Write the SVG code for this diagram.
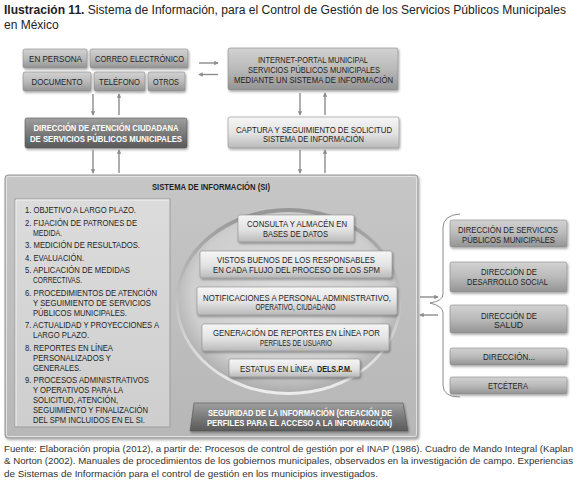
<svg xmlns="http://www.w3.org/2000/svg" width="579" height="490" viewBox="0 0 579 490">
<style>
text{font-family:"Liberation Sans",Arial,sans-serif}
.title{font-size:12px;fill:#222}
.t{font-size:9.5px;fill:#1e1e1e;text-anchor:middle}
.tl{font-size:9.5px;fill:#1e1e1e}
.ts{font-size:9.5px;fill:#1e1e1e}
.tw{font-size:9.5px;fill:#fff;font-weight:bold;text-anchor:middle}
.tb{font-size:9.5px;fill:#1e1e1e;font-weight:bold;text-anchor:middle}
.ft{font-size:9.8px;fill:#333}
.btn{fill:url(#gBtn);stroke:#8a8a8a;stroke-width:.6}
.lite{fill:url(#gLite);stroke:#8f8f8f;stroke-width:.6}
.dark{fill:url(#gDark);stroke:#555;stroke-width:.6}
.arr{stroke:#8c8c8c;stroke-width:1.4;fill:none;marker-end:url(#ah)}
</style>
<defs>
<linearGradient id="gBtn" x1="0" y1="0" x2="0" y2="1"><stop offset="0" stop-color="#d2d2d2"/><stop offset=".5" stop-color="#bababa"/><stop offset="1" stop-color="#939393"/></linearGradient>
<linearGradient id="gLite" x1="0" y1="0" x2="0" y2="1"><stop offset="0" stop-color="#f6f6f6"/><stop offset=".55" stop-color="#e2e2e2"/><stop offset="1" stop-color="#b9b9b9"/></linearGradient>
<linearGradient id="gDark" x1="0" y1="0" x2="0" y2="1"><stop offset="0" stop-color="#a0a0a0"/><stop offset=".5" stop-color="#7a7a7a"/><stop offset="1" stop-color="#5a5a5a"/></linearGradient>
<linearGradient id="gSI" x1="0" y1="0" x2="0" y2="1"><stop offset="0" stop-color="#c6c6c6"/><stop offset="1" stop-color="#b7b7b7"/></linearGradient>
<linearGradient id="gList" x1="0" y1="0" x2="0" y2="1"><stop offset="0" stop-color="#dcdcdc"/><stop offset="1" stop-color="#cecece"/></linearGradient>
<radialGradient id="gCirc" cx=".5" cy=".45" r=".55"><stop offset="0" stop-color="#dcdcdc"/><stop offset=".8" stop-color="#cecece"/><stop offset="1" stop-color="#adadad"/></radialGradient>
<linearGradient id="gRim" x1="0" y1="0" x2="0" y2="1"><stop offset="0" stop-color="#969696"/><stop offset="1" stop-color="#eeeeee"/></linearGradient>
<filter id="sh" x="-10%" y="-10%" width="120%" height="140%"><feDropShadow dx="1" dy="1.5" stdDeviation="1" flood-color="#000" flood-opacity=".35"/></filter>
<marker id="ah" viewBox="0 0 6 6" refX="5" refY="3" markerWidth="4.5" markerHeight="4.5" orient="auto" markerUnits="userSpaceOnUse"><path d="M0,0 L6,3 L0,6 z" fill="#8c8c8c"/></marker>
</defs>
<rect width="579" height="490" fill="#fff"/>

<text x="4" y="14" class="title" textLength="562" lengthAdjust="spacingAndGlyphs"><tspan font-weight="bold">Ilustración 11.</tspan> Sistema de Información, para el Control de Gestión de los Servicios Públicos Municipales</text>
<text x="4" y="29" class="title">en México</text>

<g id="en-persona"><rect x="23" y="49" width="64" height="19" rx="2" class="btn" filter="url(#sh)"/><text x="55.5" y="61.5" class="t" textLength="53" lengthAdjust="spacingAndGlyphs">EN PERSONA</text></g>
<g id="correo"><rect x="90" y="49" width="98" height="19" rx="2" class="btn" filter="url(#sh)"/><text x="139.5" y="61.5" class="t" textLength="89" lengthAdjust="spacingAndGlyphs">CORREO ELECTRÓNICO</text></g>
<g id="documento"><rect x="23" y="72" width="68" height="19" rx="2" class="btn" filter="url(#sh)"/><text x="57" y="84.5" class="t" textLength="51" lengthAdjust="spacingAndGlyphs">DOCUMENTO</text></g>
<g id="telefono"><rect x="94" y="72" width="51" height="19" rx="2" class="btn" filter="url(#sh)"/><text x="119.5" y="84.5" class="t" textLength="41" lengthAdjust="spacingAndGlyphs">TELÉFONO</text></g>
<g id="otros"><rect x="148" y="72" width="37" height="19" rx="2" class="btn" filter="url(#sh)"/><text x="166" y="84.5" class="t" textLength="26" lengthAdjust="spacingAndGlyphs">OTROS</text></g>

<g id="direccion-atencion"><rect x="25" y="118" width="162" height="30" rx="2" class="dark" filter="url(#sh)"/>
<text x="106" y="131" class="tw" textLength="145" lengthAdjust="spacingAndGlyphs">DIRECCIÓN DE ATENCIÓN CIUDADANA</text>
<text x="106" y="142" class="tw" textLength="152" lengthAdjust="spacingAndGlyphs">DE SERVICIOS PÚBLICOS MUNICIPALES</text></g>

<g id="internet"><rect x="228" y="48" width="170" height="42" rx="2" class="btn" filter="url(#sh)"/>
<text x="313" y="63" class="t" textLength="110" lengthAdjust="spacingAndGlyphs">INTERNET-PORTAL MUNICIPAL</text>
<text x="314" y="73" class="t" textLength="132" lengthAdjust="spacingAndGlyphs">SERVICIOS PÚBLICOS MUNICIPALES</text>
<text x="313.5" y="83" class="t" textLength="159" lengthAdjust="spacingAndGlyphs">MEDIANTE UN SISTEMA DE INFORMACIÓN</text></g>

<g id="captura"><rect x="228" y="117" width="171" height="31" rx="2" class="lite" filter="url(#sh)"/>
<text x="314" y="132.5" class="t" textLength="156" lengthAdjust="spacingAndGlyphs">CAPTURA Y SEGUIMIENTO DE SOLICITUD</text>
<text x="313.5" y="142" class="t" textLength="101" lengthAdjust="spacingAndGlyphs">SISTEMA DE INFORMACIÓN</text></g>

<g id="sistema-informacion">
<rect x="5" y="175" width="413" height="263" rx="3" fill="url(#gSI)" stroke="#9a9a9a" stroke-width="1" filter="url(#sh)"/>
<rect x="6.5" y="176.5" width="410" height="260" rx="2" fill="none" stroke="#e2e2e2" stroke-width="1"/>
<text x="211" y="190" class="tb" textLength="118" lengthAdjust="spacingAndGlyphs">SISTEMA DE INFORMACIÓN (SI)</text>
</g>

<g id="lista">
<rect x="15" y="199" width="155" height="228" fill="url(#gList)" stroke="#9c9c9c" stroke-width="1"/>
<path d="M16,426 L16,200 L169,200" fill="none" stroke="#f2f2f2" stroke-width="1"/>
<text class="tl" x="25" y="213" textLength="111" lengthAdjust="spacingAndGlyphs">1. OBJETIVO A LARGO PLAZO.</text>
<text class="tl" x="25" y="225.5" textLength="112" lengthAdjust="spacingAndGlyphs">2. FIJACIÓN DE PATRONES DE</text>
<text class="tl" x="33" y="235.5" textLength="29" lengthAdjust="spacingAndGlyphs">MEDIDA.</text>
<text class="tl" x="25" y="248" textLength="115" lengthAdjust="spacingAndGlyphs">3. MEDICIÓN DE RESULTADOS.</text>
<text class="tl" x="25" y="260.5" textLength="59" lengthAdjust="spacingAndGlyphs">4. EVALUACIÓN.</text>
<text class="tl" x="25" y="273" textLength="105" lengthAdjust="spacingAndGlyphs">5. APLICACIÓN DE MEDIDAS</text>
<text class="tl" x="33" y="283" textLength="49" lengthAdjust="spacingAndGlyphs">CORRECTIVAS.</text>
<text class="tl" x="25" y="295.5" textLength="132" lengthAdjust="spacingAndGlyphs">6. PROCEDIMIENTOS DE ATENCIÓN</text>
<text class="tl" x="33" y="305.5" textLength="118" lengthAdjust="spacingAndGlyphs">Y SEGUIMIENTO DE SERVICIOS</text>
<text class="tl" x="33" y="315.5" textLength="94" lengthAdjust="spacingAndGlyphs">PÚBLICOS MUNICIPALES.</text>
<text class="tl" x="25" y="328" textLength="134" lengthAdjust="spacingAndGlyphs">7. ACTUALIDAD Y PROYECCIONES A</text>
<text class="tl" x="33" y="338" textLength="56" lengthAdjust="spacingAndGlyphs">LARGO PLAZO.</text>
<text class="tl" x="25" y="350.5" textLength="88" lengthAdjust="spacingAndGlyphs">8. REPORTES EN LÍNEA</text>
<text class="tl" x="33" y="360.5" textLength="78" lengthAdjust="spacingAndGlyphs">PERSONALIZADOS Y</text>
<text class="tl" x="33" y="370.5" textLength="48" lengthAdjust="spacingAndGlyphs">GENERALES.</text>
<text class="tl" x="25" y="383" textLength="124" lengthAdjust="spacingAndGlyphs">9. PROCESOS ADMINISTRATIVOS</text>
<text class="tl" x="33" y="393" textLength="90" lengthAdjust="spacingAndGlyphs">Y OPERATIVOS PARA LA</text>
<text class="tl" x="33" y="403" textLength="85" lengthAdjust="spacingAndGlyphs">SOLICITUD, ATENCIÓN,</text>
<text class="tl" x="33" y="413" textLength="115" lengthAdjust="spacingAndGlyphs">SEGUIMIENTO Y FINALIZACIÓN</text>
<text class="tl" x="33" y="423" textLength="112" lengthAdjust="spacingAndGlyphs">DEL SPM INCLUIDOS EN EL SI.</text>
</g>

<g id="circulo">
<ellipse cx="288.5" cy="301.5" rx="113" ry="93.5" fill="url(#gRim)"/>
<ellipse cx="288.5" cy="302" rx="110" ry="90" fill="url(#gCirc)"/>
</g>

<g id="consulta"><rect x="238" y="215" width="116" height="27" rx="2" class="lite" filter="url(#sh)"/>
<text x="297" y="227" class="t" textLength="100" lengthAdjust="spacingAndGlyphs">CONSULTA Y ALMACÉN EN</text>
<text x="295.5" y="237" class="t" textLength="65" lengthAdjust="spacingAndGlyphs">BASES DE DATOS</text></g>
<g id="vistos"><rect x="200" y="251" width="192" height="27" rx="2" class="lite" filter="url(#sh)"/>
<text x="296" y="263" class="t" textLength="158" lengthAdjust="spacingAndGlyphs">VISTOS BUENOS DE LOS RESPONSABLES</text>
<text x="296.5" y="273" class="t" textLength="167" lengthAdjust="spacingAndGlyphs">EN CADA FLUJO DEL PROCESO DE LOS SPM</text></g>
<g id="notificaciones"><rect x="197" y="287" width="200" height="28" rx="2" class="lite" filter="url(#sh)"/>
<text x="297" y="300.5" class="t" textLength="188" lengthAdjust="spacingAndGlyphs">NOTIFICACIONES A PERSONAL ADMINISTRATIVO,</text>
<text x="295.5" y="310" class="t" textLength="80" lengthAdjust="spacingAndGlyphs">OPERATIVO, CIUDADANO</text></g>
<g id="generacion"><rect x="202" y="324" width="187" height="27" rx="2" class="lite" filter="url(#sh)"/>
<text x="296.5" y="336" class="t" textLength="167" lengthAdjust="spacingAndGlyphs">GENERACIÓN DE REPORTES EN LÍNEA POR</text>
<text x="296" y="346" class="t" textLength="72" lengthAdjust="spacingAndGlyphs">PERFILES DE USUARIO</text></g>
<g id="estatus"><rect x="229" y="359" width="131" height="18" rx="2" class="lite" filter="url(#sh)"/>
<text x="240" y="371.5" class="ts" textLength="73" lengthAdjust="spacingAndGlyphs">ESTATUS EN LÍNEA</text>
<text x="317" y="371.5" class="ts" font-weight="bold" textLength="35" lengthAdjust="spacingAndGlyphs">DELS.P.M.</text></g>

<g id="seguridad"><path d="M194,403 L403,403 L408,431 L190,431 Z" class="dark" filter="url(#sh)"/>
<text x="300" y="416" class="tw" textLength="184" lengthAdjust="spacingAndGlyphs">SEGURIDAD DE LA INFORMACIÓN (CREACIÓN DE</text>
<text x="299.5" y="425.5" class="tw" textLength="185" lengthAdjust="spacingAndGlyphs">PERFILES PARA EL ACCESO A LA INFORMACIÓN)</text></g>

<g id="dir-servicios"><rect x="450" y="220" width="117" height="27" rx="2" class="btn" filter="url(#sh)"/>
<text x="508" y="232.5" class="t" textLength="100" lengthAdjust="spacingAndGlyphs">DIRECCIÓN DE SERVICIOS</text>
<text x="508.5" y="242.5" class="t" textLength="93" lengthAdjust="spacingAndGlyphs">PÚBLICOS MUNICIPALES</text></g>
<g id="dir-desarrollo"><rect x="450" y="262" width="117" height="30" rx="2" class="btn" filter="url(#sh)"/>
<text x="509" y="275" class="t" textLength="56" lengthAdjust="spacingAndGlyphs">DIRECCIÓN DE</text>
<text x="507.5" y="285" class="t" textLength="81" lengthAdjust="spacingAndGlyphs">DESARROLLO SOCIAL</text></g>
<g id="dir-salud"><rect x="450" y="305" width="117" height="28" rx="2" class="btn" filter="url(#sh)"/>
<text x="509" y="318.5" class="t" textLength="56" lengthAdjust="spacingAndGlyphs">DIRECCIÓN DE</text>
<text x="508.5" y="328" class="t" textLength="29" lengthAdjust="spacingAndGlyphs">SALUD</text></g>
<g id="dir-etc"><rect x="450" y="348" width="117" height="17" rx="2" class="btn" filter="url(#sh)"/>
<text x="509" y="359.5" class="t" textLength="52" lengthAdjust="spacingAndGlyphs">DIRECCIÓN...</text></g>
<g id="etcetera"><rect x="450" y="377" width="117" height="17" rx="2" class="btn" filter="url(#sh)"/>
<text x="508" y="388.5" class="t" textLength="40" lengthAdjust="spacingAndGlyphs">ETCÉTERA</text></g>

<g id="connectors">
<line x1="199" y1="63" x2="218" y2="63" class="arr"/>
<line x1="218" y1="74.5" x2="199" y2="74.5" class="arr"/>
<line x1="93" y1="94" x2="93" y2="115" class="arr"/>
<line x1="119" y1="115" x2="119" y2="94" class="arr"/>
<line x1="93" y1="150" x2="93" y2="173" class="arr"/>
<line x1="119" y1="173" x2="119" y2="150" class="arr"/>
<line x1="300" y1="93" x2="300" y2="115" class="arr"/>
<line x1="325" y1="115" x2="325" y2="93" class="arr"/>
<line x1="300" y1="150" x2="300" y2="173" class="arr"/>
<line x1="325" y1="173" x2="325" y2="150" class="arr"/>
<line x1="420" y1="297" x2="438" y2="297" class="arr"/>
<line x1="438" y1="315" x2="420" y2="315" class="arr"/>
<path d="M460,214 Q443,215 443,228 L443,294 Q443,301 430,303 Q443,306 443,313 L443,385 Q443,397 460,397" fill="none" stroke="#8c8c8c" stroke-width="1"/>
</g>

<text class="ft" x="4" y="451.5" textLength="569" lengthAdjust="spacingAndGlyphs">Fuente: Elaboración propia (2012), a partir de: Procesos de control de gestión por el INAP (1986). Cuadro de Mando Integral (Kaplan</text>
<text class="ft" x="4" y="464" textLength="569" lengthAdjust="spacingAndGlyphs">&amp; Norton (2002). Manuales de procedimientos de los gobiernos municipales, observados en la investigación de campo. Experiencias</text>
<text class="ft" x="4" y="476.5" textLength="374" lengthAdjust="spacingAndGlyphs">de Sistemas de Información para el control de gestión en los municipios investigados.</text>
</svg>
